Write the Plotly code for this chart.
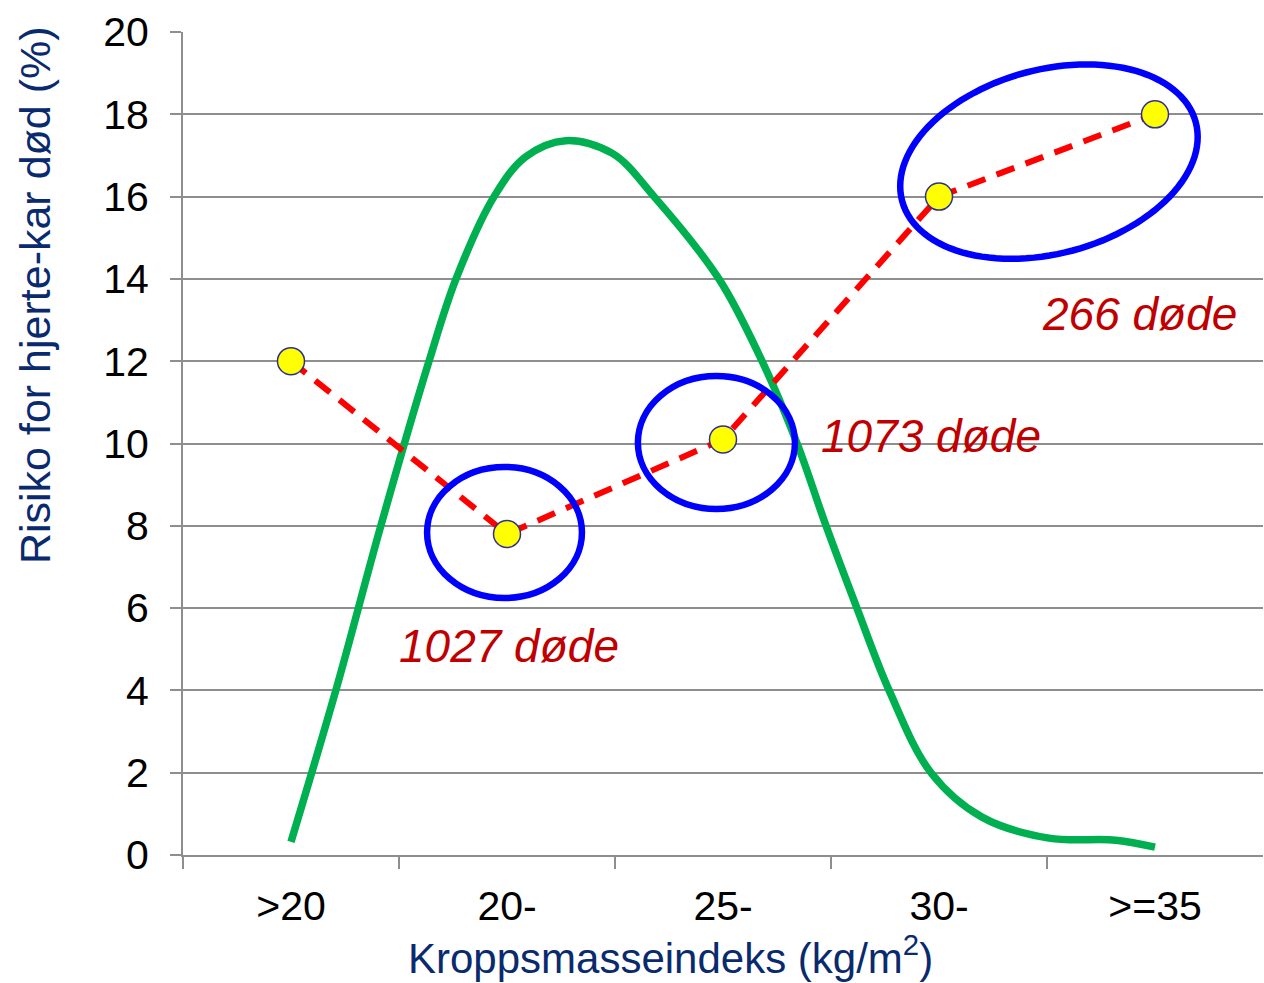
import numpy as np
import plotly.graph_objects as go

# ---- data ----
categories = [">20", "20-", "25-", "30-", ">=35"]
cat_pos = [0, 1, 2, 3, 4]
risk = [12.0, 7.8, 10.1, 16.0, 18.0]

# distribution curve, x in category units
dist_x = [0.0, 0.208, 0.417, 0.639, 0.764, 0.94, 1.087, 1.272, 1.488, 1.681,
          1.981, 2.181, 2.343, 2.477, 2.62, 2.769, 2.963, 3.199, 3.509, 3.819, 4.0]
dist_y = [0.32, 4.01, 8.02, 12.0, 14.0, 16.0, 16.97, 17.36, 17.05, 16.0,
          14.0, 12.0, 10.0, 8.0, 6.0, 4.0, 2.0, 0.92, 0.41, 0.36, 0.19]

ann_texts = ["1027 døde", "1073 døde", "266 døde"]
ann_x = [1.01, 2.963, 3.93]
ann_y = [5.08, 10.18, 13.15]

x_title = "Kroppsmasseindeks (kg/m<sup>2</sup>)"
y_title = "Risiko for hjerte-kar død (%)"

GRID = "#8E8E8E"
NAVY = "#0A2A6E"
FONT = "Liberation Sans, Arial"

fig = go.Figure()

fig.add_trace(go.Scatter(
    x=dist_x, y=dist_y, mode="lines",
    line=dict(color="#00B050", width=7.5, shape="spline", smoothing=1.0),
    hoverinfo="skip", showlegend=False))

fig.add_trace(go.Scatter(
    x=cat_pos, y=risk, mode="lines+markers",
    line=dict(color="#FF0000", width=6, dash="19px,12px"),
    marker=dict(size=27, color="#FFFF00", line=dict(color="#2E3192", width=1.5)),
    showlegend=False))

# highlight ellipses
shapes = []
for (x0, x1, y0, y1) in [(0.630, 1.347, 6.245, 9.43), (1.606, 2.333, 8.41, 11.64)]:
    shapes.append(dict(type="circle", xref="x", yref="y", x0=x0, x1=x1, y0=y0, y1=y1,
                       line=dict(color="#0000FF", width=6.5), layer="above"))

# rotated ellipse around the last two points
px_per_x, px_per_y = 216.0, 41.15
cx, cy = 3.509, 16.85
a, b, th = 152.0, 92.0, np.deg2rad(15)
t = np.linspace(0, 2 * np.pi, 121)
dx = a * np.cos(t) * np.cos(th) - b * np.sin(t) * np.sin(th)
dy = a * np.cos(t) * np.sin(th) + b * np.sin(t) * np.cos(th)
ex = cx + dx / px_per_x
ey = cy + dy / px_per_y
path = "M " + " L ".join(f"{xx:.4f},{yy:.4f}" for xx, yy in zip(ex, ey)) + " Z"
shapes.append(dict(type="path", xref="x", yref="y", path=path,
                   line=dict(color="#0000FF", width=6.5), layer="above"))

annotations = []
for txt, x, y in zip(ann_texts, ann_x, ann_y):
    annotations.append(dict(x=x, y=y, xref="x", yref="y", text=txt, showarrow=False,
                            font=dict(family=FONT, size=46,
                                      color="#C00000", style="italic")))
# axis titles (placed like the reference, off-centre)
annotations.append(dict(x=-0.137, y=0.6804, xref="paper", yref="paper", text=y_title,
                        textangle=-90, showarrow=False, xanchor="center", yanchor="middle",
                        font=dict(family=FONT, size=43, color=NAVY)))
annotations.append(dict(x=0.451, y=-0.1215, xref="paper", yref="paper", text=x_title,
                        showarrow=False, xanchor="center", yanchor="middle",
                        font=dict(family=FONT, size=42, color=NAVY)))

fig.update_layout(
    width=1264, height=983,
    margin=dict(l=183, r=1, t=32, b=128),
    paper_bgcolor="white", plot_bgcolor="white",
    font=dict(family=FONT, color="black"),
    shapes=shapes, annotations=annotations,
    xaxis=dict(
        range=[-0.5, 4.5], tickmode="array", tickvals=cat_pos, ticktext=categories,
        ticks="", showgrid=False, zeroline=False,
        showline=True, linecolor=GRID, linewidth=2,
        minor=dict(tickmode="array", tickvals=[-0.5, 0.5, 1.5, 2.5, 3.5], ticks="outside",
                   ticklen=12, tickwidth=2, tickcolor=GRID, showgrid=False),
        tickfont=dict(size=41, color="black"), ticklabelstandoff=14,
    ),
    yaxis=dict(
        range=[0, 20], tickmode="array", tickvals=list(range(0, 21, 2)),
        ticks="outside", ticklen=11, tickwidth=2, tickcolor=GRID,
        showgrid=True, gridcolor=GRID, gridwidth=2, zeroline=False,
        showline=True, linecolor=GRID, linewidth=2,
        tickfont=dict(size=41, color="black"), ticklabelstandoff=13,
    ),
)

fig.write_html("out.html")
